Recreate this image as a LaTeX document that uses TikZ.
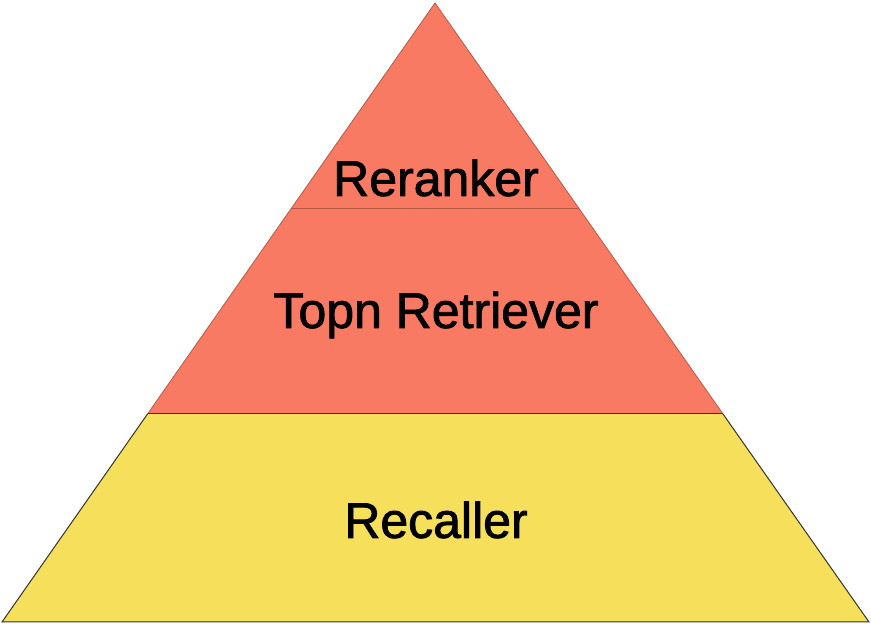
\documentclass[tikz,border=0pt]{standalone}
\usepackage{fontspec}
\setmainfont{Liberation Sans}
\newfontfamily\lblfont[FakeBold=1.6]{Liberation Sans}
\definecolor{pred}{HTML}{F97A63}
\definecolor{pyel}{HTML}{F6DF5B}
\definecolor{predline}{HTML}{B85848}
\begin{document}
\begin{tikzpicture}[x=1pt,y=1pt,
  lbl/.style={font=\lblfont\fontsize{50}{54}\selectfont, text=black, inner sep=0pt}]
\useasboundingbox (0,0) rectangle (871,626);
\coordinate (apex) at (435,623);
\coordinate (bl) at (2,4);
\coordinate (br) at (869,4);
\coordinate (ml) at (147.5,212);
\coordinate (mr) at (723,212);
\coordinate (tl) at (291,418);
\coordinate (tr) at (579,418);
% yellow trapezoid
\fill[pyel] (bl) -- (br) -- (mr) -- (ml) -- cycle;
\draw[black!80, line width=1pt] (ml) -- (bl) -- (br) -- (mr);
% red triangle
\fill[pred] (apex) -- (mr) -- (ml) -- cycle;
\draw[predline, line width=0.8pt] (ml) -- (apex) -- (mr);
\draw[predline, line width=0.8pt] (tl) -- (tr);
\draw[black!80, line width=1pt] (ml) -- (mr);
\node[lbl] (rr) at (436,448) {Reranker};
\node[lbl] (tr2) at (436,311) {Topn Retriever};
\node[lbl] (rc) at (436,106) {Recaller};
\end{tikzpicture}
\end{document}
